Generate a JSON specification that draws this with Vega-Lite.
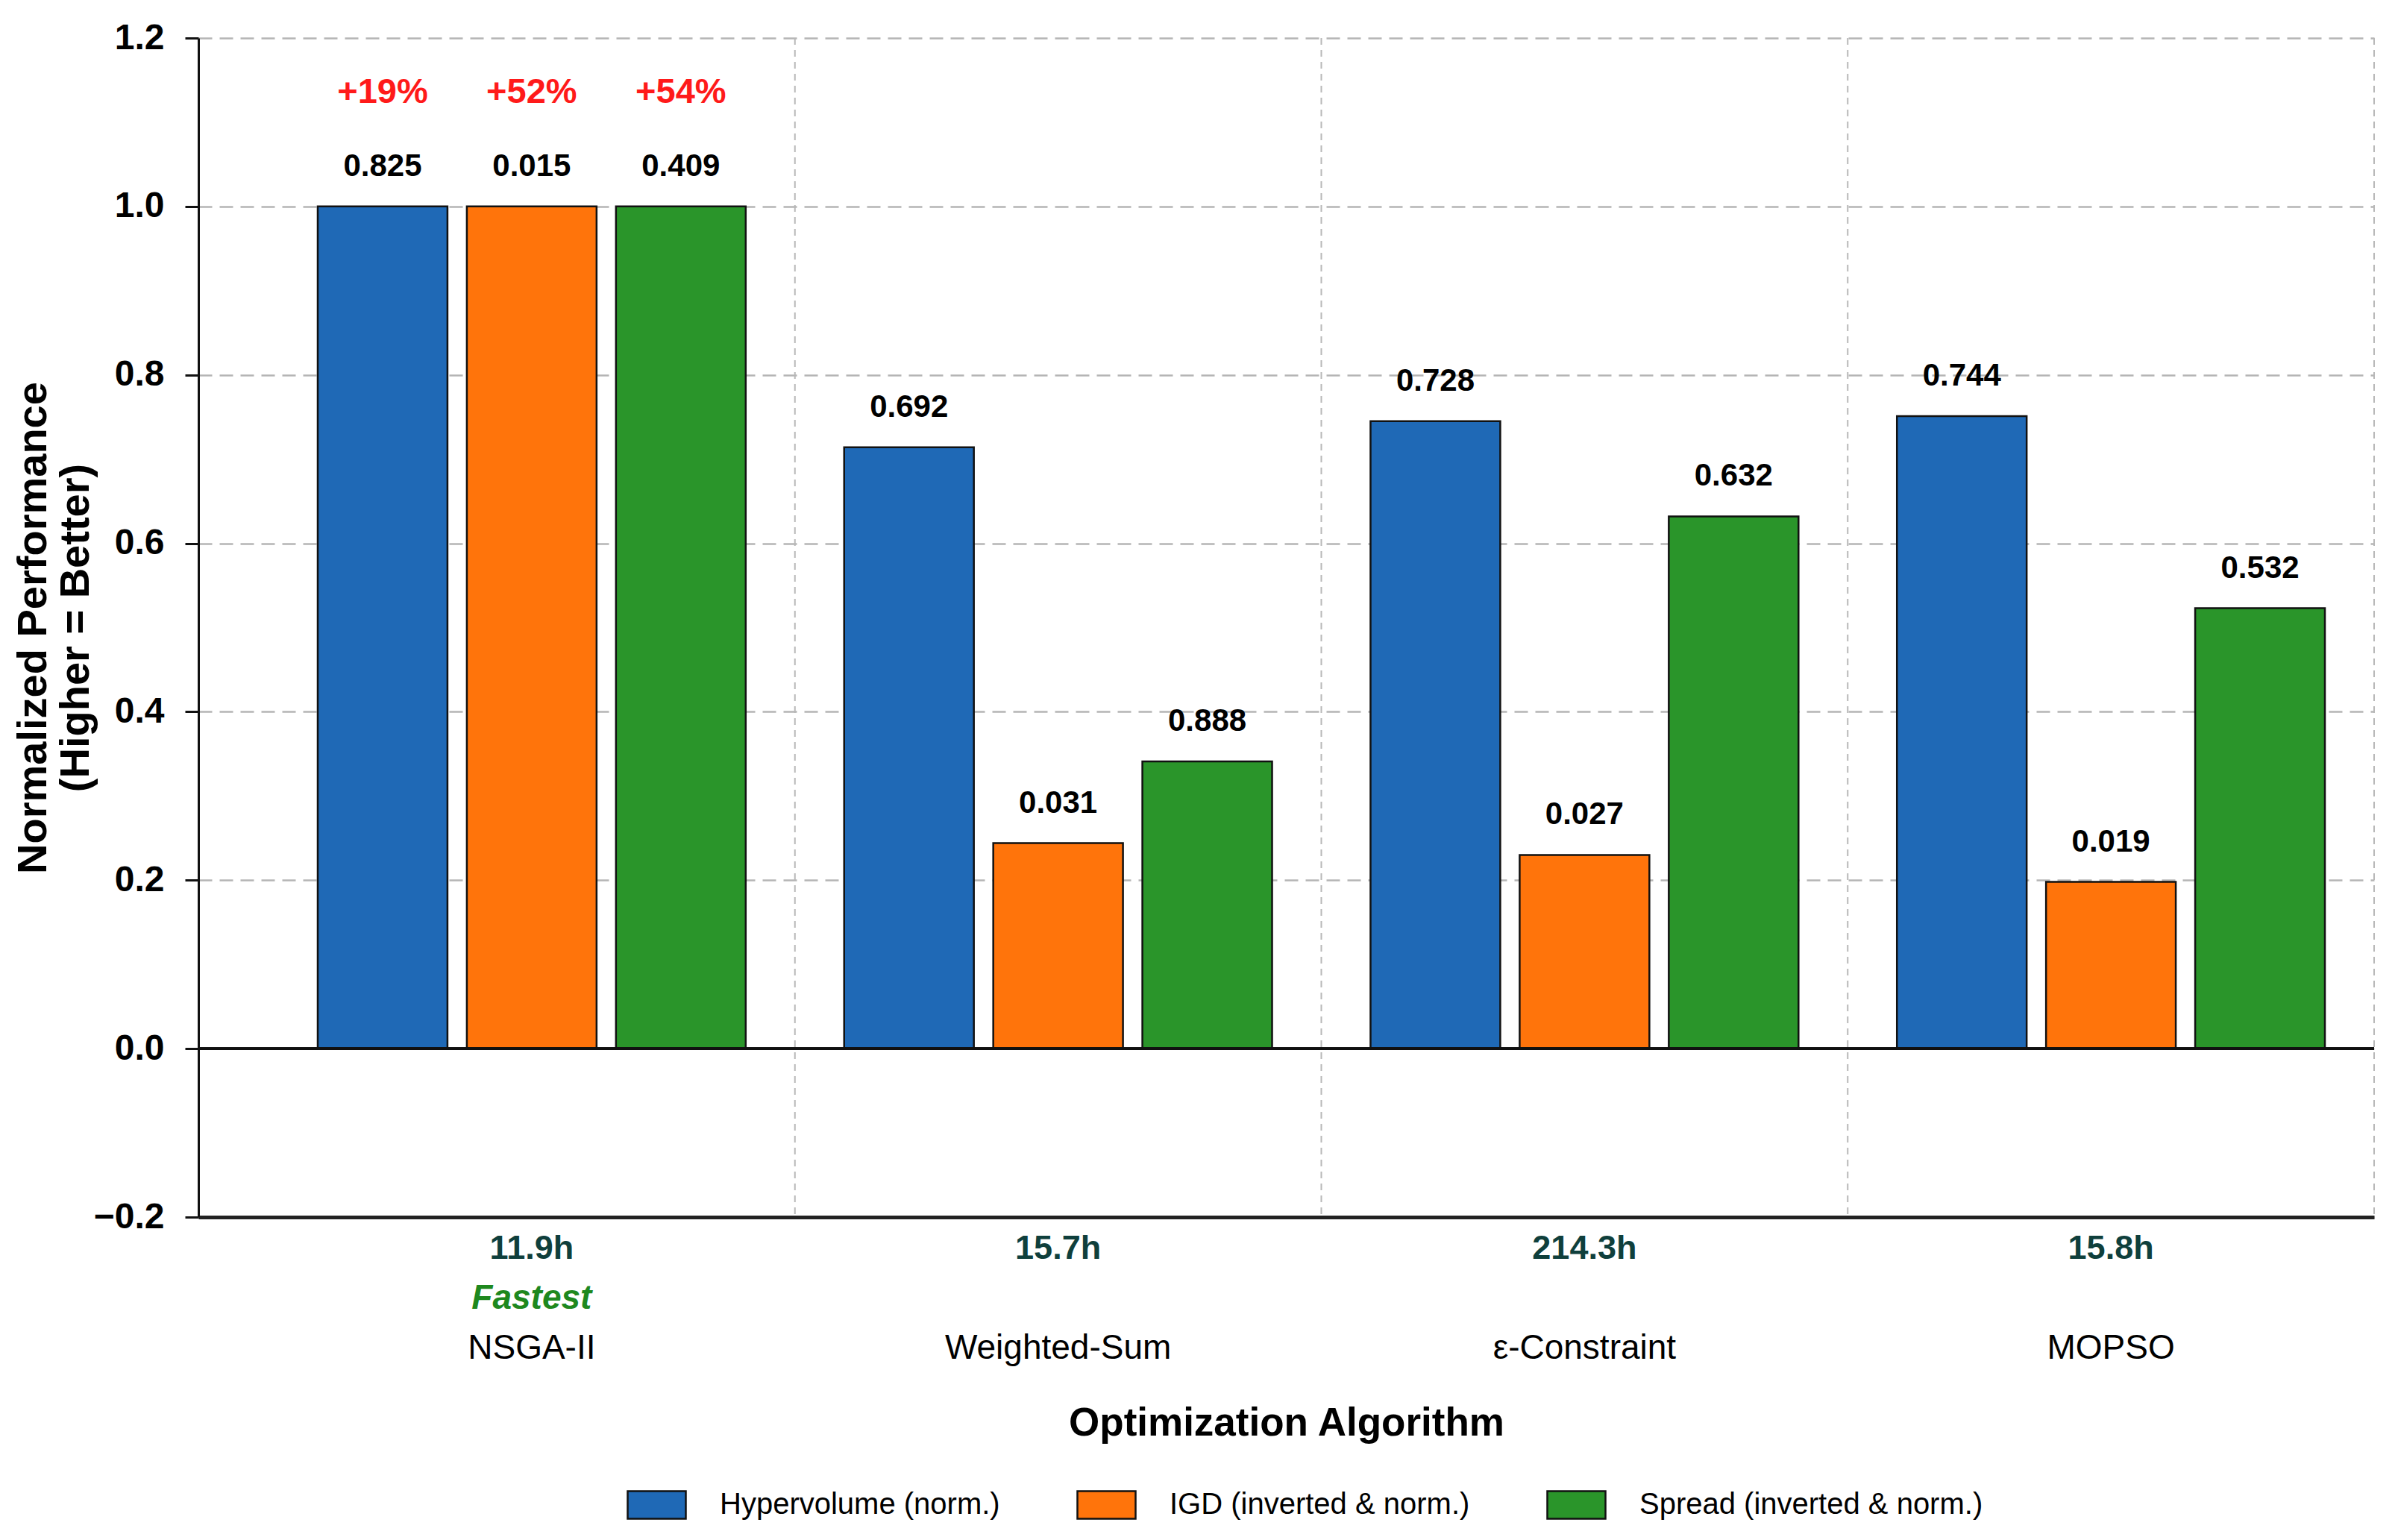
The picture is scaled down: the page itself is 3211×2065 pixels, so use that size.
{
  "$schema": "https://vega.github.io/schema/vega-lite/v6.json",
  "autosize": {"type": "none"},
  "padding": {"left": 266, "top": 51, "right": 28, "bottom": 433},
  "width": 2917,
  "height": 1581,
  "background": "#ffffff",
  "datasets": {
    "scores": [
      {"algorithm": "NSGA-II", "metric": "Hypervolume (norm.)", "normalized": 1.0, "raw": 0.825, "gain": "+19%"},
      {"algorithm": "NSGA-II", "metric": "IGD (inverted & norm.)", "normalized": 1.0, "raw": 0.015, "gain": "+52%"},
      {"algorithm": "NSGA-II", "metric": "Spread (inverted & norm.)", "normalized": 1.0, "raw": 0.409, "gain": "+54%"},
      {"algorithm": "Weighted-Sum", "metric": "Hypervolume (norm.)", "normalized": 0.714, "raw": 0.692},
      {"algorithm": "Weighted-Sum", "metric": "IGD (inverted & norm.)", "normalized": 0.244, "raw": 0.031},
      {"algorithm": "Weighted-Sum", "metric": "Spread (inverted & norm.)", "normalized": 0.341, "raw": 0.888},
      {"algorithm": "ε-Constraint", "metric": "Hypervolume (norm.)", "normalized": 0.745, "raw": 0.728},
      {"algorithm": "ε-Constraint", "metric": "IGD (inverted & norm.)", "normalized": 0.230, "raw": 0.027},
      {"algorithm": "ε-Constraint", "metric": "Spread (inverted & norm.)", "normalized": 0.632, "raw": 0.632},
      {"algorithm": "MOPSO", "metric": "Hypervolume (norm.)", "normalized": 0.751, "raw": 0.744},
      {"algorithm": "MOPSO", "metric": "IGD (inverted & norm.)", "normalized": 0.198, "raw": 0.019},
      {"algorithm": "MOPSO", "metric": "Spread (inverted & norm.)", "normalized": 0.523, "raw": 0.532}
    ],
    "runtimes": [
      {"algorithm": "NSGA-II", "runtime": "11.9h", "note": "Fastest"},
      {"algorithm": "Weighted-Sum", "runtime": "15.7h", "note": ""},
      {"algorithm": "ε-Constraint", "runtime": "214.3h", "note": ""},
      {"algorithm": "MOPSO", "runtime": "15.8h", "note": ""}
    ]
  },
  "layer": [
    {
      "data": {"name": "runtimes"},
      "mark": {"type": "rule", "color": "#b8b8b8", "strokeWidth": 2, "strokeDash": [9, 7]},
      "encoding": {
        "x": {
          "field": "algorithm", "type": "nominal", "bandPosition": 1,
          "sort": ["NSGA-II", "Weighted-Sum", "ε-Constraint", "MOPSO"],
          "scale": {"domain": ["NSGA-II", "Weighted-Sum", "ε-Constraint", "MOPSO"], "paddingInner": 0, "paddingOuter": 0.0666, "align": 1},
          "axis": {
            "title": "Optimization Algorithm",
            "labels": false,
            "ticks": false,
            "grid": false,
            "domainColor": "#222222",
            "domainWidth": 5,
            "titleFont": "Liberation Sans, Arial, sans-serif",
            "titleFontSize": 53,
            "titleFontWeight": "bold",
            "titleColor": "#000000",
            "titlePadding": 250
          }
        }
      }
    },
    {
      "data": {"name": "scores"},
      "mark": {"type": "bar", "stroke": "#111111", "strokeWidth": 2.5},
      "encoding": {
        "x": {"field": "algorithm", "type": "nominal", "sort": ["NSGA-II", "Weighted-Sum", "ε-Constraint", "MOPSO"]},
        "xOffset": {
          "field": "metric", "type": "nominal",
          "sort": ["Hypervolume (norm.)", "IGD (inverted & norm.)", "Spread (inverted & norm.)"],
          "scale": {"paddingInner": 0.13, "paddingOuter": 0.33}
        },
        "y": {
          "field": "normalized", "type": "quantitative",
          "scale": {"domain": [-0.2, 1.2], "nice": false, "zero": false},
          "axis": {
            "title": ["Normalized Performance", "(Higher = Better)"],
            "values": [-0.2, 0, 0.2, 0.4, 0.6, 0.8, 1.0, 1.2],
            "format": ".1f",
            "labelFont": "Liberation Sans, Arial, sans-serif",
            "labelFontSize": 48,
            "labelFontWeight": "bold",
            "labelColor": "#000000",
            "labelPadding": 28,
            "tickSize": 18,
            "tickWidth": 3,
            "tickColor": "#111111",
            "domainColor": "#111111",
            "domainWidth": 3,
            "grid": true,
            "gridColor": "#b5b5b5",
            "gridWidth": 2.5,
            "gridDash": [18, 10],
            "titleFont": "Liberation Sans, Arial, sans-serif",
            "titleFontSize": 56,
            "titleFontWeight": "bold",
            "titleColor": "#000000",
            "titleLineHeight": 57,
            "titlePadding": -5
          }
        },
        "color": {
          "field": "metric", "type": "nominal",
          "scale": {
            "domain": ["Hypervolume (norm.)", "IGD (inverted & norm.)", "Spread (inverted & norm.)"],
            "range": ["#1f69b6", "#ff740b", "#2a952a"]
          },
          "legend": {
            "orient": "none",
            "legendX": 574,
            "legendY": 1926,
            "direction": "horizontal",
            "title": null,
            "symbolType": "M-1,-0.475H1V0.475H-1Z",
            "symbolSize": 6084,
            "symbolStrokeColor": "#111111",
            "symbolStrokeWidth": 2.5,
            "symbolOpacity": 1,
            "labelFont": "Liberation Sans, Arial, sans-serif",
            "labelFontSize": 40,
            "labelColor": "#000000",
            "labelOffset": 44,
            "columnPadding": 98,
            "labelLimit": 800
          }
        }
      }
    },
    {
      "data": {"name": "scores"},
      "mark": {"type": "text", "baseline": "middle", "dy": -54, "font": "Liberation Sans, Arial, sans-serif", "fontSize": 42, "fontWeight": "bold", "color": "#000000"},
      "encoding": {
        "x": {"field": "algorithm", "type": "nominal", "sort": ["NSGA-II", "Weighted-Sum", "ε-Constraint", "MOPSO"]},
        "xOffset": {"field": "metric", "type": "nominal", "sort": ["Hypervolume (norm.)", "IGD (inverted & norm.)", "Spread (inverted & norm.)"]},
        "y": {"field": "normalized", "type": "quantitative"},
        "text": {"field": "raw", "type": "quantitative", "format": ".3f"}
      }
    },
    {
      "data": {"name": "scores"},
      "transform": [{"filter": "datum.gain != null"}],
      "mark": {"type": "text", "baseline": "middle", "dy": -153, "font": "Liberation Sans, Arial, sans-serif", "fontSize": 47, "fontWeight": "bold", "color": "#ff1a1a"},
      "encoding": {
        "x": {"field": "algorithm", "type": "nominal", "sort": ["NSGA-II", "Weighted-Sum", "ε-Constraint", "MOPSO"]},
        "xOffset": {"field": "metric", "type": "nominal", "sort": ["Hypervolume (norm.)", "IGD (inverted & norm.)", "Spread (inverted & norm.)"]},
        "y": {"field": "normalized", "type": "quantitative"},
        "text": {"field": "gain", "type": "nominal"}
      }
    },
    {
      "data": {"name": "scores"},
      "mark": {"type": "rule", "color": "#111111", "strokeWidth": 3},
      "encoding": {"y": {"datum": 0}}
    },
    {
      "data": {"name": "runtimes"},
      "mark": {"type": "text", "baseline": "middle", "dy": 42, "font": "Liberation Sans, Arial, sans-serif", "fontSize": 45, "fontWeight": "bold", "color": "#0f3f3c"},
      "encoding": {
        "x": {"field": "algorithm", "type": "nominal", "sort": ["NSGA-II", "Weighted-Sum", "ε-Constraint", "MOPSO"]},
        "y": {"datum": -0.2},
        "text": {"field": "runtime", "type": "nominal"}
      }
    },
    {
      "data": {"name": "runtimes"},
      "mark": {"type": "text", "baseline": "middle", "dy": 109, "font": "Liberation Sans, Arial, sans-serif", "fontSize": 46, "fontWeight": "bold", "fontStyle": "italic", "color": "#1e881e"},
      "encoding": {
        "x": {"field": "algorithm", "type": "nominal", "sort": ["NSGA-II", "Weighted-Sum", "ε-Constraint", "MOPSO"]},
        "y": {"datum": -0.2},
        "text": {"field": "note", "type": "nominal"}
      }
    },
    {
      "data": {"name": "runtimes"},
      "mark": {"type": "text", "baseline": "middle", "dy": 176, "font": "Liberation Sans, Arial, sans-serif", "fontSize": 46, "color": "#000000"},
      "encoding": {
        "x": {"field": "algorithm", "type": "nominal", "sort": ["NSGA-II", "Weighted-Sum", "ε-Constraint", "MOPSO"]},
        "y": {"datum": -0.2},
        "text": {"field": "algorithm", "type": "nominal"}
      }
    }
  ],
  "config": {
    "view": {"stroke": null},
    "axis": {"labelFont": "Liberation Sans, Arial, sans-serif"}
  }
}
